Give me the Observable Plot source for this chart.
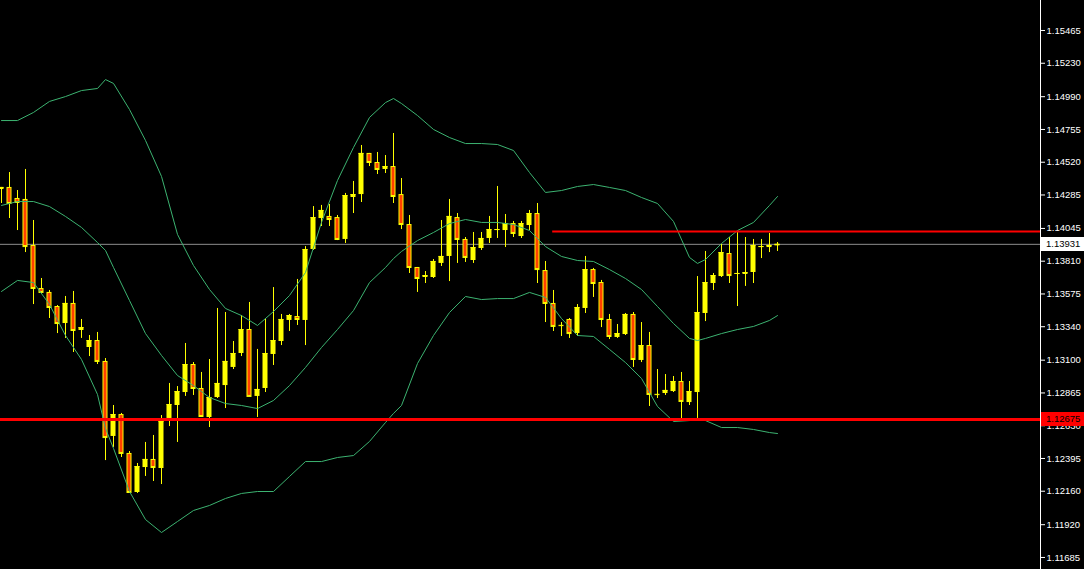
<!DOCTYPE html>
<html>
<head>
<meta charset="utf-8">
<script src="https://cdn.jsdelivr.net/npm/d3@7"></script>
<script src="https://cdn.jsdelivr.net/npm/@observablehq/plot@0.6"></script>
<style>
  html, body { margin: 0; padding: 0; background: #000; }
  svg { display: block; }
</style>
</head>
<body>
<div id="chart"></div>
<script>
// ---- Data ----
const opens = [
1.14324, 1.14339, 1.14260, 1.14253, 1.13923, 1.13614, 1.13586, 1.13485, 1.13363, 1.13507,
1.13313, 1.13191, 1.13241, 1.13091, 1.12553, 1.12710, 1.12431, 1.12151, 1.12330, 1.12388,
1.12323, 1.12682, 1.12775, 1.12868, 1.13069, 1.12897, 1.12689, 1.12832, 1.12918, 1.13048,
1.13148, 1.13320, 1.12840, 1.12897, 1.13141, 1.13234, 1.13385, 1.13413, 1.13385, 1.13894,
1.14116, 1.14131, 1.14123, 1.13966, 1.14267, 1.14288, 1.14583, 1.14518, 1.14468, 1.14489,
1.14288, 1.14073, 1.13765, 1.13693, 1.13693, 1.13794, 1.13844, 1.14123, 1.13966, 1.13815,
1.13901, 1.13973, 1.14030, 1.14030, 1.14080, 1.13987, 1.14066, 1.14152, 1.13743, 1.13507,
1.13350, 1.13392, 1.13291, 1.13471, 1.13750, 1.13657, 1.13392, 1.13263, 1.13284, 1.13428,
1.13098, 1.13205, 1.12855, 1.12861, 1.12875, 1.12947, 1.12796, 1.12868, 1.13435, 1.13650,
1.13700, 1.13865, 1.13715, 1.13715, 1.13729, 1.13908, 1.13908, 1.13920];
const highs = [
1.14339, 1.14446, 1.14317, 1.14468, 1.14102, 1.13686, 1.13600, 1.13492, 1.13557, 1.13593,
1.13392, 1.13277, 1.13299, 1.13112, 1.12775, 1.12718, 1.12445, 1.12359, 1.12510, 1.12560,
1.12703, 1.12933, 1.12911, 1.13220, 1.13083, 1.13012, 1.13105, 1.13471, 1.13442, 1.13234,
1.13420, 1.13514, 1.13177, 1.13399, 1.13621, 1.13428, 1.13428, 1.13679, 1.13915, 1.14202,
1.14210, 1.14217, 1.14138, 1.14296, 1.14382, 1.14640, 1.14583, 1.14590, 1.14568, 1.14726,
1.14403, 1.14138, 1.13765, 1.13736, 1.13822, 1.14102, 1.14253, 1.14152, 1.13980, 1.14016,
1.14016, 1.14131, 1.14346, 1.14145, 1.14095, 1.14095, 1.14174, 1.14224, 1.13808, 1.13600,
1.13370, 1.13399, 1.13499, 1.13844, 1.13758, 1.13672, 1.13428, 1.13356, 1.13435, 1.13442,
1.13370, 1.13299, 1.13033, 1.12997, 1.12983, 1.13012, 1.12947, 1.13700, 1.13880, 1.13722,
1.13930, 1.13980, 1.14016, 1.13980, 1.13966, 1.13966, 1.14009, 1.13944];
const lows = [
1.14224, 1.14116, 1.14030, 1.13872, 1.13499, 1.13578, 1.13399, 1.13291, 1.13256, 1.13155,
1.13256, 1.13126, 1.13069, 1.12380, 1.12474, 1.12402, 1.12144, 1.12144, 1.12266, 1.12230,
1.12208, 1.12624, 1.12510, 1.12840, 1.12847, 1.12689, 1.12617, 1.12825, 1.12753, 1.13033,
1.13126, 1.12840, 1.12689, 1.12868, 1.13062, 1.13205, 1.13306, 1.13349, 1.13205, 1.13887,
1.14059, 1.14059, 1.13958, 1.13937, 1.14152, 1.14231, 1.14489, 1.14432, 1.14439, 1.14224,
1.14037, 1.13722, 1.13586, 1.13650, 1.13686, 1.13772, 1.13664, 1.13794, 1.13801, 1.13794,
1.13887, 1.13937, 1.13973, 1.13908, 1.13980, 1.13973, 1.14030, 1.13650, 1.13370, 1.13306,
1.13270, 1.13256, 1.13270, 1.13435, 1.13550, 1.13334, 1.13248, 1.13256, 1.13277, 1.13048,
1.13083, 1.12768, 1.12825, 1.12847, 1.12868, 1.12667, 1.12775, 1.12682, 1.13377, 1.13600,
1.13693, 1.13650, 1.13485, 1.13629, 1.13650, 1.13829, 1.13872, 1.13880];
const closes = [
1.14339, 1.14224, 1.14231, 1.13915, 1.13614, 1.13586, 1.13478, 1.13363, 1.13507, 1.13313,
1.13334, 1.13241, 1.13091, 1.12545, 1.12710, 1.12431, 1.12151, 1.12337, 1.12388, 1.12330,
1.12660, 1.12782, 1.12875, 1.13069, 1.12897, 1.12696, 1.12832, 1.12933, 1.13091, 1.13148,
1.13320, 1.12840, 1.12890, 1.13148, 1.13241, 1.13392, 1.13420, 1.13392, 1.13894, 1.14123,
1.14174, 1.14109, 1.13966, 1.14281, 1.14288, 1.14583, 1.14518, 1.14468, 1.14489, 1.14274,
1.14073, 1.13765, 1.13686, 1.13707, 1.13808, 1.13844, 1.14131, 1.13966, 1.13837, 1.13908,
1.13973, 1.14037, 1.14037, 1.14080, 1.14009, 1.14080, 1.14152, 1.13750, 1.13507, 1.13342,
1.13348, 1.13291, 1.13478, 1.13750, 1.13650, 1.13392, 1.13270, 1.13291, 1.13428, 1.13105,
1.13205, 1.12854, 1.12853, 1.12883, 1.12947, 1.12804, 1.12875, 1.13442, 1.13657, 1.13707,
1.13872, 1.13707, 1.13722, 1.13729, 1.13923, 1.13915, 1.13923, 1.13931];

// Bollinger bands, read at these candle positions
const bandIndex = [0,2,4,6,8,10,12,13,14,16, 18,20,22,24,26,28,30,32,34,36,
  38,40,42,44,46,48,49,50,52,54, 56,58,60,62,64,66,68,70,72,74,
  76,78,80,82,84,86,87,88,90,92, 94,96,97];
const upperBand = [
1.14819,1.14819,1.14877,1.14956,1.14991,1.15034,1.15049,1.15113,1.15085,1.14898,
1.14676,1.14418,1.14002,1.13779,1.13607,1.13471,1.13420,1.13349,1.13449,1.13564,
1.13729,1.14088,1.14389,1.14626,1.14841,1.14948,1.14977,1.14941,1.14855,1.14755,
1.14697,1.14654,1.14654,1.14647,1.14604,1.14446,1.14303,1.14317,1.14346,1.14360,
1.14339,1.14317,1.14267,1.14224,1.14095,1.13837,1.13794,1.13822,1.13937,1.14030,
1.14088,1.14210,1.14274];
const middleBand = [
1.14210,1.14238,1.14238,1.14202,1.14131,1.14052,1.13944,1.13887,1.13765,1.13528,
1.13291,1.13134,1.12990,1.12918,1.12832,1.12789,1.12775,1.12753,1.12811,1.12918,
1.13048,1.13191,1.13320,1.13456,1.13657,1.13765,1.13829,1.13880,1.13958,1.14016,
1.14080,1.14109,1.14088,1.14088,1.14073,1.14030,1.13915,1.13844,1.13815,1.13808,
1.13750,1.13686,1.13607,1.13485,1.13363,1.13256,1.13241,1.13256,1.13291,1.13320,
1.13342,1.13385,1.13420];
const lowerBand = [
1.13593,1.13672,1.13657,1.13499,1.13277,1.13105,1.12854,1.12610,1.12467,1.12158,
1.11957,1.11864,1.11943,1.12022,1.12058,1.12108,1.12144,1.12158,1.12158,1.12266,
1.12373,1.12373,1.12402,1.12416,1.12517,1.12653,1.12718,1.12775,1.13076,1.13277,
1.13442,1.13557,1.13535,1.13542,1.13542,1.13586,1.13550,1.13399,1.13277,1.13270,
1.13177,1.13083,1.12969,1.12768,1.12660,1.12667,1.12675,1.12667,1.12617,1.12617,
1.12603,1.12581,1.12574];

const supportLevel = 1.12675;
const resistanceLevel = 1.14023;
const resistanceStart = 68.9;   // candle position where the upper line begins
const bidPrice = 1.13931;
const tickValues = [1.15465, 1.15230, 1.14990, 1.14755, 1.14520, 1.14285, 1.14045, 1.13810,
  1.13575, 1.13340, 1.13100, 1.12865, 1.12630, 1.12395, 1.12160, 1.11920, 1.11685];

// ---- Scale configuration ----
const xDomain = [-0.125, 129.875];
const yDomain = [1.115986, 1.15680];
const halfBody = 0.3125;

const candles = opens.map((o, i) => ({
  i, open: o, high: highs[i], low: lows[i], close: closes[i], bear: closes[i] < o
}));
const bands = bandIndex.map((k, j) => ({i: k, upper: upperBand[j], middle: middleBand[j], lower: lowerBand[j]}));

const YELLOW = "#ffff00", BEAR = "#ff4000", GREEN = "#3cb371", RED = "#ff0000", GRAY = "#8c8c8c";
const FONT = "'Liberation Sans', Arial, sans-serif";

const chart = Plot.plot({
  width: 1084,
  height: 569,
  marginTop: 0, marginBottom: 0, marginLeft: 0, marginRight: 44,
  style: {background: "#000", color: "#fff", fontFamily: FONT, fontSize: "9.5px", overflow: "visible"},
  x: {domain: xDomain, axis: null},
  y: {domain: yDomain, axis: null},
  marks: [
    Plot.ruleY([bidPrice], {stroke: GRAY}),
    Plot.ruleX(candles, {x: "i", y1: "low", y2: "high", stroke: YELLOW}),
    Plot.rect(candles, {x1: d => d.i - halfBody, x2: d => d.i + halfBody, y1: "open", y2: "close", fill: YELLOW}),
    Plot.rect(candles.filter(d => d.open - d.close > 0.00016), {x1: d => d.i - halfBody, x2: d => d.i + halfBody, y1: "open", y2: "close", fill: BEAR, inset: 1}),
    Plot.ruleY(candles, {y: "close", x1: d => d.i - halfBody, x2: d => d.i + halfBody, stroke: YELLOW}),
    Plot.line(bands, {x: "i", y: "upper", stroke: GREEN, strokeWidth: 1}),
    Plot.line(bands, {x: "i", y: "middle", stroke: GREEN, strokeWidth: 1}),
    Plot.line(bands, {x: "i", y: "lower", stroke: GREEN, strokeWidth: 1}),
    Plot.ruleY([supportLevel], {stroke: RED, strokeWidth: 3}),
    Plot.ruleY([resistanceLevel], {x1: resistanceStart, x2: xDomain[1], stroke: RED, strokeWidth: 2}),
    Plot.ruleX([xDomain[1]], {stroke: "#fff"}),
    Plot.axisY(tickValues, {anchor: "right", tickFormat: d3.format(".5f"), tickSize: 4, tickPadding: 2, stroke: "#fff", fill: "#fff"})
  ]
});

document.getElementById("chart").appendChild(chart);

// price tags on the axis, positioned with Plot's own scales
const ys = chart.scale("y"), xs = chart.scale("x");
const svg = d3.select(chart);
const axisX = xs.apply(xDomain[1]);
function tag(price, bg, fg) {
  const yy = Math.round(ys.apply(price));
  svg.append("rect").attr("x", axisX + 1).attr("y", yy - 7).attr("width", 1084 - axisX - 1).attr("height", 14).attr("fill", bg);
  svg.append("text").attr("x", axisX + 6).attr("y", yy).attr("dy", "0.34em")
    .attr("text-anchor", "start")
    .attr("fill", fg).attr("font-family", FONT).attr("font-size", "9.5px")
    .text(d3.format(".5f")(price));
}
tag(bidPrice, "#ffffff", "#000000");
tag(supportLevel, RED, "#000000");
</script>
</body>
</html>
